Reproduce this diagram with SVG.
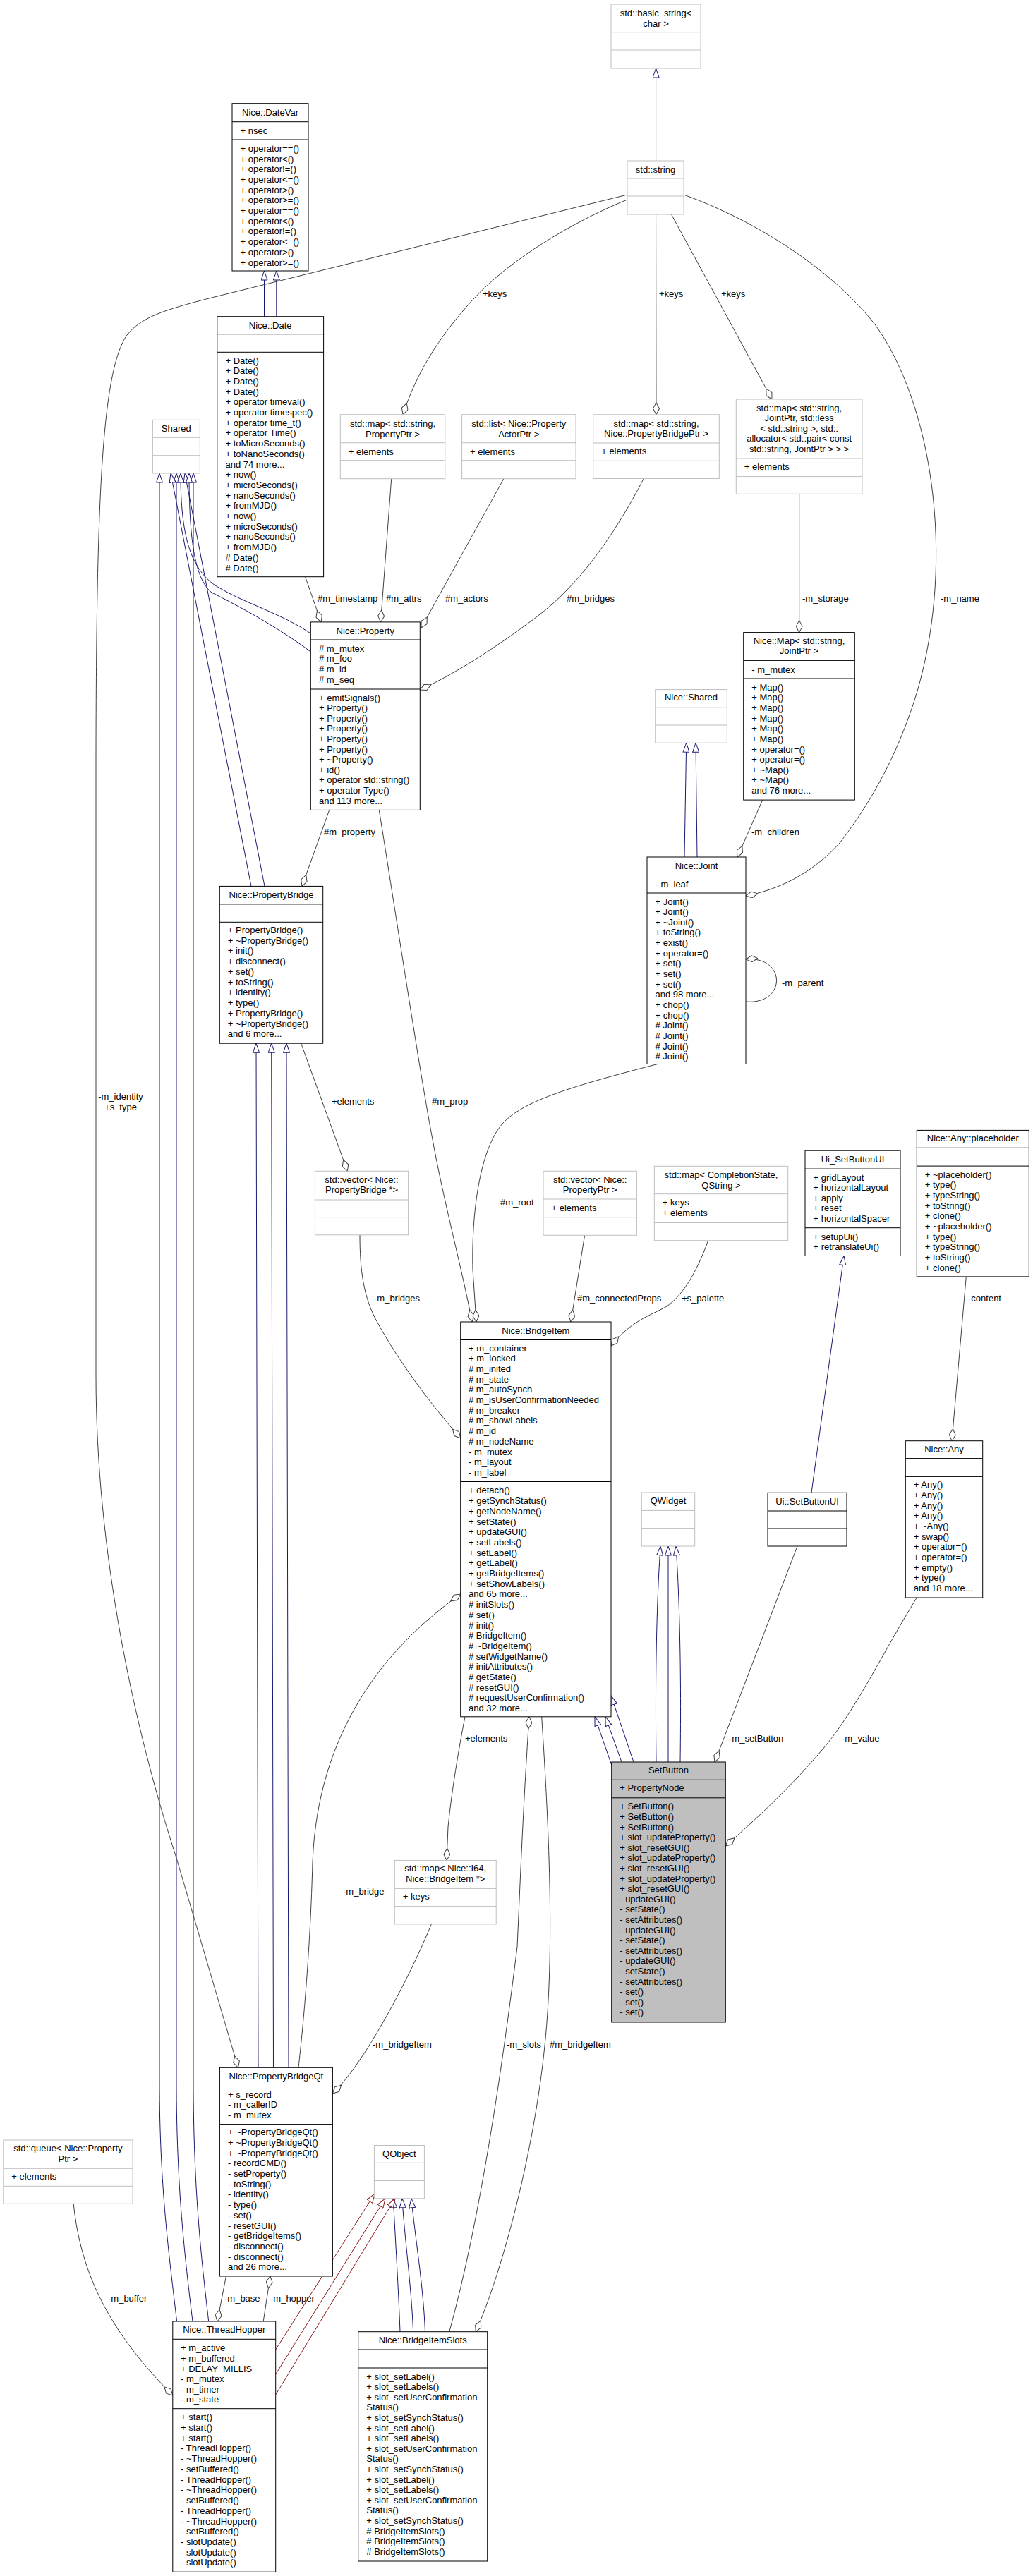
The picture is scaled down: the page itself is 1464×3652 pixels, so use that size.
<svg xmlns="http://www.w3.org/2000/svg" width="1464" height="3652" viewBox="0 0 1464 3652">
<style>
text{font-family:"Liberation Sans",Arial,sans-serif;font-size:13px;fill:#000}
.c{text-anchor:middle}
.nb rect{fill:#fff;stroke:#000;stroke-width:1}
.nb path{fill:none;stroke:#000;stroke-width:1}
.gb rect{fill:#fff;stroke:#bfbfbf;stroke-width:1}
.gb path{fill:none;stroke:#bfbfbf;stroke-width:1}
.nb.sel rect{fill:#bfbfbf}
.i{fill:none;stroke:#191970;stroke-width:1;marker-end:url(#tb)}
.r{fill:none;stroke:#8b1a1a;stroke-width:1;marker-end:url(#tr)}
.u{fill:none;stroke:#404040;stroke-width:1;marker-end:url(#dm)}
</style>
<defs>
<marker id="tb" viewBox="0 0 14 10" refX="13.5" refY="5" markerWidth="14" markerHeight="10" markerUnits="userSpaceOnUse" orient="auto"><path d="M0.5,0.5 L13.5,5 L0.5,9.5 Z" fill="#fff" stroke="#191970"/></marker>
<marker id="tr" viewBox="0 0 14 10" refX="13.5" refY="5" markerWidth="14" markerHeight="10" markerUnits="userSpaceOnUse" orient="auto"><path d="M0.5,0.5 L13.5,5 L0.5,9.5 Z" fill="#fff" stroke="#8b1a1a"/></marker>
<marker id="dm" viewBox="0 0 18 10" refX="17.5" refY="5" markerWidth="18" markerHeight="10" markerUnits="userSpaceOnUse" orient="auto"><path d="M0.5,5 L9,0.5 L17.5,5 L9,9.5 Z" fill="#fff" stroke="#404040"/></marker>
</defs>
<rect x="0" y="0" width="1464" height="3652" fill="#fff"/>

<g id="connectors">
<path class="i" d="M929.6,228 L929.6,97"/>
<path class="i" d="M374.5,448.7 L374.5,384"/>
<path class="i" d="M391.8,448.7 L391.8,384"/>
<path class="i" d="M250.6,3291 C240,3200 226,3100 226,2950 L226,671"/>
<path class="i" d="M273,3291 C262,3200 250,3100 250,2950 L250,671"/>
<path class="i" d="M295.7,3291 C285,3200 274,3100 274,2950 L274,671"/>
<path class="i" d="M356,1256.4 L242,671"/>
<path class="i" d="M375,1256.4 L262,671"/>
<path class="i" d="M440.3,898 C400,870 345,855 305,830 C270,805 256,760 256,671"/>
<path class="i" d="M440.3,924 C395,890 340,860 300,840 C275,820 268,760 268,671"/>
<path class="i" d="M366,2931.3 L363,1479.2"/>
<path class="i" d="M387.5,2931.3 L384.7,1479.2"/>
<path class="i" d="M409,2931.3 L406,1479.2"/>
<path class="i" d="M970,1215 L972.7,1053.2"/>
<path class="i" d="M988,1215 L986,1053.2"/>
<path class="i" d="M1150,2116.3 L1196,1780.5"/>
<path class="i" d="M930,2498 C928,2350 932,2250 936,2192"/>
<path class="i" d="M947,2498 L947,2192"/>
<path class="i" d="M964,2498 C966,2350 962,2250 958,2192"/>
<path class="i" d="M866.7,2502 L843,2433.8"/>
<path class="i" d="M881,2498 L858,2433.8"/>
<path class="i" d="M898,2498 L866,2404"/>
<path class="i" d="M567,3305.7 C565,3250 560,3170 557.4,3116.8"/>
<path class="i" d="M585.6,3305.7 C583,3240 573,3170 570,3116.8"/>
<path class="i" d="M602.5,3305.7 C600,3240 588,3170 583,3116.8"/>
<path class="r" d="M390.7,3331 L531,3110"/>
<path class="r" d="M390.7,3366 L546,3116.8"/>
<path class="r" d="M390.7,3395 L560,3116.8"/>

<path class="u" d="M889,283 C810,315 720,370 670,425 C620,480 590,530 571,587.7"/>
<path class="u" d="M929.6,304 L930,587.8"/>
<path class="u" d="M951.5,304 L1094,566"/>
<path class="u" d="M969,276 C1090,320 1190,395 1240,460 C1320,570 1355,790 1300,980 C1270,1080 1225,1150 1190,1195 C1150,1240 1100,1262 1057,1270"/>
<path class="u" d="M432.6,817.7 L455,881.9"/>
<path class="u" d="M554.7,678.7 L539.5,881.9"/>
<path class="u" d="M713.9,678.7 L597,890"/>
<path class="u" d="M912.3,678.5 C870,760 820,830 760,875 C700,920 645,955 595.3,978"/>
<path class="u" d="M1132.7,700.3 L1132.7,896.6"/>
<path class="u" d="M1080.7,1134.1 L1045,1215"/>
<path class="u" d="M466.7,1148.4 L428,1256.4"/>
<path class="u" d="M426.7,1479.2 L492.4,1660.3"/>
<path class="u" d="M537.3,1148.4 C560,1290 595,1520 612,1610 C628,1700 655,1800 669,1874"/>
<path class="u" d="M932,1508.5 C810,1540 745,1560 715,1590 C680,1625 668,1720 670,1800 L675,1874"/>
<path class="u" d="M510,1750.8 C510,1800 515,1840 535,1875 C565,1930 610,1990 652.7,2039"/>
<path class="u" d="M828.6,1751.3 L809,1874"/>
<path class="u" d="M1003.7,1758.7 C985,1810 965,1838 945,1852 C920,1866 895,1872 866,1908"/>
<path class="u" d="M1369.3,1809.9 L1349,2042.7"/>
<path class="u" d="M1130,2192 L1013,2498"/>
<path class="u" d="M1299.3,2265 C1250,2345 1215,2420 1170,2475 C1120,2535 1070,2580 1028.3,2617"/>
<path class="u" d="M659,2433.8 C650,2480 640,2540 635,2590 L633,2637.4"/>
<path class="u" d="M423,2931.3 C430,2870 440,2760 443,2640 C450,2460 540,2340 652.7,2260"/>
<path class="u" d="M611.4,2727.9 C590,2780 555,2850 520,2905 C505,2928 490,2950 471.4,2968"/>
<path class="u" d="M636.8,3305.7 C680,3150 712,2930 733,2760 C738,2650 742,2550 750,2433.8"/>
<path class="u" d="M767.7,2433.8 C775,2550 788,2750 772,2900 C757,3050 712,3220 674.3,3305.7"/>
<path class="u" d="M320.4,3227 L308,3291"/>
<path class="u" d="M373.2,3291 L383,3227"/>
<path class="u" d="M104.2,3124.3 C115,3230 160,3310 244.8,3396"/>
<path class="u" d="M889,276 L300,422 C230,440 200,450 180,475 C145,525 136,700 136,1100 L136,1950 C136,2200 190,2450 250,2634 L337.5,2931.3"/>
<path class="u" d="M1057,1420 C1115,1425 1115,1355 1057,1360"/>

<g id="edge-labels">
<text x="684" y="420.5">+keys</text>
<text x="934" y="420.5">+keys</text>
<text x="1022" y="420.5">+keys</text>
<text x="450" y="853">#m_timestamp</text>
<text x="547" y="853">#m_attrs</text>
<text x="631" y="853">#m_actors</text>
<text x="803" y="853">#m_bridges</text>
<text x="1137" y="853">-m_storage</text>
<text x="1333" y="853">-m_name</text>
<text x="459" y="1184">#m_property</text>
<text x="1065" y="1184">-m_children</text>
<text x="1108" y="1398">-m_parent</text>
<text class="c" x="171" y="1559">-m_identity</text>
<text class="c" x="171" y="1573.5">+s_type</text>
<text x="470" y="1566">+elements</text>
<text x="612" y="1566">#m_prop</text>
<text x="709" y="1708.5">#m_root</text>
<text x="530" y="1845">-m_bridges</text>
<text x="818" y="1845">#m_connectedProps</text>
<text x="966" y="1845">+s_palette</text>
<text x="1372" y="1845">-content</text>
<text x="659" y="2468.5">+elements</text>
<text x="1033" y="2469">-m_setButton</text>
<text x="1193" y="2469">-m_value</text>
<text x="486" y="2685.5">-m_bridge</text>
<text x="528" y="2903">-m_bridgeItem</text>
<text x="718" y="2903">-m_slots</text>
<text x="779" y="2903">#m_bridgeItem</text>
<text x="318" y="3263">-m_base</text>
<text x="383" y="3263">-m_hopper</text>
<text x="153" y="3263">-m_buffer</text>
</g>
</g>

<g id="node-basic-string" class="gb">
<rect x="866" y="6" width="127" height="91"/>
<path d="M866,45.7H993M866,71H993"/>
<text class="c" x="929.5" y="22.5">std::basic_string&lt;</text>
<text class="c" x="929.5" y="37.5">char &gt;</text>
</g>

<g id="node-std-string" class="gb">
<rect x="889" y="228" width="80" height="76"/>
<path d="M889,253H969M889,278H969"/>
<text class="c" x="929" y="245">std::string</text>
</g>

<g id="node-datevar" class="nb">
<rect x="329" y="146.7" width="108" height="237.3"/>
<path d="M329,172.7H437M329,198H437"/>
<text class="c" x="383" y="163.5">Nice::DateVar</text>
<text x="340.5" y="189.5">+ nsec</text>
<text x="340.5" y="214.8"><tspan x="340.5" dy="0">+ operator==()</tspan><tspan x="340.5" dy="14.7">+ operator&lt;()</tspan><tspan x="340.5" dy="14.7">+ operator!=()</tspan><tspan x="340.5" dy="14.7">+ operator&lt;=()</tspan><tspan x="340.5" dy="14.7">+ operator&gt;()</tspan><tspan x="340.5" dy="14.7">+ operator&gt;=()</tspan><tspan x="340.5" dy="14.7">+ operator==()</tspan><tspan x="340.5" dy="14.7">+ operator&lt;()</tspan><tspan x="340.5" dy="14.7">+ operator!=()</tspan><tspan x="340.5" dy="14.7">+ operator&lt;=()</tspan><tspan x="340.5" dy="14.7">+ operator&gt;()</tspan><tspan x="340.5" dy="14.7">+ operator&gt;=()</tspan></text>
</g>

<g id="node-date" class="nb">
<rect x="307.8" y="448.7" width="150.8" height="369"/>
<path d="M307.8,473.7H458.6M307.8,499.3H458.6"/>
<text class="c" x="383.2" y="465.5">Nice::Date</text>
<text x="319.5" y="515.5"><tspan x="319.5" dy="0">+ Date()</tspan><tspan x="319.5" dy="14.7">+ Date()</tspan><tspan x="319.5" dy="14.7">+ Date()</tspan><tspan x="319.5" dy="14.7">+ Date()</tspan><tspan x="319.5" dy="14.7">+ operator timeval()</tspan><tspan x="319.5" dy="14.7">+ operator timespec()</tspan><tspan x="319.5" dy="14.7">+ operator time_t()</tspan><tspan x="319.5" dy="14.7">+ operator Time()</tspan><tspan x="319.5" dy="14.7">+ toMicroSeconds()</tspan><tspan x="319.5" dy="14.7">+ toNanoSeconds()</tspan><tspan x="319.5" dy="14.7">and 74 more...</tspan><tspan x="319.5" dy="14.7">+ now()</tspan><tspan x="319.5" dy="14.7">+ microSeconds()</tspan><tspan x="319.5" dy="14.7">+ nanoSeconds()</tspan><tspan x="319.5" dy="14.7">+ fromMJD()</tspan><tspan x="319.5" dy="14.7">+ now()</tspan><tspan x="319.5" dy="14.7">+ microSeconds()</tspan><tspan x="319.5" dy="14.7">+ nanoSeconds()</tspan><tspan x="319.5" dy="14.7">+ fromMJD()</tspan><tspan x="319.5" dy="14.7"># Date()</tspan><tspan x="319.5" dy="14.7"># Date()</tspan></text>
</g>

<g id="node-shared" class="gb">
<rect x="216.4" y="595.3" width="66.9" height="75.7"/>
<path d="M216.4,620.3H283.3M216.4,645.7H283.3"/>
<text class="c" x="249.8" y="611.5">Shared</text>
</g>

<g id="node-map-propertyptr" class="gb">
<rect x="482.3" y="587.7" width="148.5" height="91"/>
<path d="M482.3,627.7H630.8M482.3,652.7H630.8"/>
<text class="c" x="556.5" y="604.5">std::map&lt; std::string,</text>
<text class="c" x="556.5" y="619.5">PropertyPtr &gt;</text>
<text x="493.8" y="644.5">+ elements</text>
</g>

<g id="node-list-actor" class="gb">
<rect x="654.6" y="587.7" width="161.4" height="91"/>
<path d="M654.6,627.7H816M654.6,652.7H816"/>
<text class="c" x="735.3" y="604.5">std::list&lt; Nice::Property</text>
<text class="c" x="735.3" y="619.5">ActorPtr &gt;</text>
<text x="666" y="644.5">+ elements</text>
</g>

<g id="node-map-bridgeptr" class="gb">
<rect x="840.7" y="587.8" width="178.6" height="90.7"/>
<path d="M840.7,628H1019.3M840.7,653.3H1019.3"/>
<text class="c" x="930" y="604.5">std::map&lt; std::string,</text>
<text class="c" x="930" y="619">Nice::PropertyBridgePtr &gt;</text>
<text x="852.2" y="644.2">+ elements</text>
</g>

<g id="node-map-joint" class="gb">
<rect x="1043.3" y="566" width="178.7" height="134.3"/>
<path d="M1043.3,650H1222M1043.3,675.6H1222"/>
<text class="c" x="1132.6" y="582.7">std::map&lt; std::string,</text>
<text class="c" x="1132.6" y="597.2">JointPtr, std::less</text>
<text class="c" x="1132.6" y="611.7">&lt; std::string &gt;, std::</text>
<text class="c" x="1132.6" y="626.3">allocator&lt; std::pair&lt; const</text>
<text class="c" x="1132.6" y="640.8">std::string, JointPtr &gt; &gt; &gt;</text>
<text x="1054.8" y="666">+ elements</text>
</g>

<g id="node-property" class="nb">
<rect x="440.3" y="881.9" width="155" height="266.5"/>
<path d="M440.3,907H595.3M440.3,977H595.3"/>
<text class="c" x="517.8" y="898.5">Nice::Property</text>
<text x="452" y="923.5"><tspan x="452" dy="0"># m_mutex</tspan><tspan x="452" dy="14.7"># m_foo</tspan><tspan x="452" dy="14.7"># m_id</tspan><tspan x="452" dy="14.7"># m_seq</tspan></text>
<text x="452" y="993.5"><tspan x="452" dy="0">+ emitSignals()</tspan><tspan x="452" dy="14.6">+ Property()</tspan><tspan x="452" dy="14.6">+ Property()</tspan><tspan x="452" dy="14.6">+ Property()</tspan><tspan x="452" dy="14.6">+ Property()</tspan><tspan x="452" dy="14.6">+ Property()</tspan><tspan x="452" dy="14.6">+ ~Property()</tspan><tspan x="452" dy="14.6">+ id()</tspan><tspan x="452" dy="14.6">+ operator std::string()</tspan><tspan x="452" dy="14.6">+ operator Type()</tspan><tspan x="452" dy="14.6">and 113 more...</tspan></text>
</g>

<g id="node-map" class="nb">
<rect x="1053.7" y="896.6" width="157.6" height="237.5"/>
<path d="M1053.7,936.4H1211.3M1053.7,962H1211.3"/>
<text class="c" x="1132.5" y="913.2">Nice::Map&lt; std::string,</text>
<text class="c" x="1132.5" y="927.3">JointPtr &gt;</text>
<text x="1065.3" y="953.5">- m_mutex</text>
<text x="1065.3" y="978.7"><tspan x="1065.3" dy="0">+ Map()</tspan><tspan x="1065.3" dy="14.64">+ Map()</tspan><tspan x="1065.3" dy="14.64">+ Map()</tspan><tspan x="1065.3" dy="14.64">+ Map()</tspan><tspan x="1065.3" dy="14.64">+ Map()</tspan><tspan x="1065.3" dy="14.64">+ Map()</tspan><tspan x="1065.3" dy="14.64">+ operator=()</tspan><tspan x="1065.3" dy="14.64">+ operator=()</tspan><tspan x="1065.3" dy="14.64">+ ~Map()</tspan><tspan x="1065.3" dy="14.64">+ ~Map()</tspan><tspan x="1065.3" dy="14.64">and 76 more...</tspan></text>
</g>

<g id="node-nice-shared" class="gb">
<rect x="928.7" y="977.6" width="101.6" height="75.6"/>
<path d="M928.7,1002.8H1030.3M928.7,1028H1030.3"/>
<text class="c" x="979.5" y="993.2">Nice::Shared</text>
</g>

<g id="node-joint" class="nb">
<rect x="917" y="1215" width="140" height="293.5"/>
<path d="M917,1240.5H1057M917,1266H1057"/>
<text class="c" x="987" y="1232">Nice::Joint</text>
<text x="928.5" y="1257.5">- m_leaf</text>
<text x="928.5" y="1282.5"><tspan x="928.5" dy="0">+ Joint()</tspan><tspan x="928.5" dy="14.65">+ Joint()</tspan><tspan x="928.5" dy="14.65">+ ~Joint()</tspan><tspan x="928.5" dy="14.65">+ toString()</tspan><tspan x="928.5" dy="14.65">+ exist()</tspan><tspan x="928.5" dy="14.65">+ operator=()</tspan><tspan x="928.5" dy="14.65">+ set()</tspan><tspan x="928.5" dy="14.65">+ set()</tspan><tspan x="928.5" dy="14.65">+ set()</tspan><tspan x="928.5" dy="14.65">and 98 more...</tspan><tspan x="928.5" dy="14.65">+ chop()</tspan><tspan x="928.5" dy="14.65">+ chop()</tspan><tspan x="928.5" dy="14.65"># Joint()</tspan><tspan x="928.5" dy="14.65"># Joint()</tspan><tspan x="928.5" dy="14.65"># Joint()</tspan><tspan x="928.5" dy="14.65"># Joint()</tspan></text>
</g>

<g id="node-propertybridge" class="nb">
<rect x="311.3" y="1256.4" width="146.4" height="222.8"/>
<path d="M311.3,1281.9H457.7M311.3,1307.3H457.7"/>
<text class="c" x="384.5" y="1273">Nice::PropertyBridge</text>
<text x="322.8" y="1323"><tspan x="322.8" dy="0">+ PropertyBridge()</tspan><tspan x="322.8" dy="14.73">+ ~PropertyBridge()</tspan><tspan x="322.8" dy="14.73">+ init()</tspan><tspan x="322.8" dy="14.73">+ disconnect()</tspan><tspan x="322.8" dy="14.73">+ set()</tspan><tspan x="322.8" dy="14.73">+ toString()</tspan><tspan x="322.8" dy="14.73">+ identity()</tspan><tspan x="322.8" dy="14.73">+ type()</tspan><tspan x="322.8" dy="14.73">+ PropertyBridge()</tspan><tspan x="322.8" dy="14.73">+ ~PropertyBridge()</tspan><tspan x="322.8" dy="14.73">and 6 more...</tspan></text>
</g>

<g id="node-vector-bridge" class="gb">
<rect x="446.4" y="1660.3" width="132.2" height="90.5"/>
<path d="M446.4,1701H578.6M446.4,1725.6H578.6"/>
<text class="c" x="512.5" y="1676.5">std::vector&lt; Nice::</text>
<text class="c" x="512.5" y="1691">PropertyBridge *&gt;</text>
</g>

<g id="node-vector-propertyptr" class="gb">
<rect x="770" y="1660.3" width="132.4" height="91"/>
<path d="M770,1700H902.4M770,1725.7H902.4"/>
<text class="c" x="836.2" y="1677.2">std::vector&lt; Nice::</text>
<text class="c" x="836.2" y="1691.2">PropertyPtr &gt;</text>
<text x="781.5" y="1717.2">+ elements</text>
</g>

<g id="node-map-completion" class="gb">
<rect x="927.3" y="1653.3" width="189.4" height="105.4"/>
<path d="M927.3,1692.7H1116.7M927.3,1733.5H1116.7"/>
<text class="c" x="1022" y="1669.5">std::map&lt; CompletionState,</text>
<text class="c" x="1022" y="1684.5">QString &gt;</text>
<text x="938.8" y="1709.2">+ keys</text>
<text x="938.8" y="1724.2">+ elements</text>
</g>

<g id="node-ui-setbuttonui-base" class="nb">
<rect x="1141" y="1631.2" width="135" height="149.3"/>
<path d="M1141,1657.1H1276M1141,1740.7H1276"/>
<text class="c" x="1208.5" y="1647.5">Ui_SetButtonUI</text>
<text x="1152.5" y="1673.5"><tspan x="1152.5" dy="0">+ gridLayout</tspan><tspan x="1152.5" dy="14.5">+ horizontalLayout</tspan><tspan x="1152.5" dy="14.5">+ apply</tspan><tspan x="1152.5" dy="14.5">+ reset</tspan><tspan x="1152.5" dy="14.5">+ horizontalSpacer</tspan></text>
<text x="1152.5" y="1757.5"><tspan x="1152.5" dy="0">+ setupUi()</tspan><tspan x="1152.5" dy="14.5">+ retranslateUi()</tspan></text>
</g>

<g id="node-placeholder" class="nb">
<rect x="1299.3" y="1602.4" width="159" height="207.5"/>
<path d="M1299.3,1627.3H1458.3M1299.3,1653.1H1458.3"/>
<text class="c" x="1378.8" y="1617.8">Nice::Any::placeholder</text>
<text x="1310.8" y="1669.5"><tspan x="1310.8" dy="0">+ ~placeholder()</tspan><tspan x="1310.8" dy="14.7">+ type()</tspan><tspan x="1310.8" dy="14.7">+ typeString()</tspan><tspan x="1310.8" dy="14.7">+ toString()</tspan><tspan x="1310.8" dy="14.7">+ clone()</tspan><tspan x="1310.8" dy="14.7">+ ~placeholder()</tspan><tspan x="1310.8" dy="14.7">+ type()</tspan><tspan x="1310.8" dy="14.7">+ typeString()</tspan><tspan x="1310.8" dy="14.7">+ toString()</tspan><tspan x="1310.8" dy="14.7">+ clone()</tspan></text>
</g>

<g id="node-bridgeitem" class="nb">
<rect x="652.7" y="1874" width="213.3" height="559.8"/>
<path d="M652.7,1899.5H866M652.7,2100.5H866"/>
<text class="c" x="759.3" y="1890.5">Nice::BridgeItem</text>
<text x="664" y="1915.5"><tspan x="664" dy="0">+ m_container</tspan><tspan x="664" dy="14.7">+ m_locked</tspan><tspan x="664" dy="14.7"># m_inited</tspan><tspan x="664" dy="14.7"># m_state</tspan><tspan x="664" dy="14.7"># m_autoSynch</tspan><tspan x="664" dy="14.7"># m_isUserConfirmationNeeded</tspan><tspan x="664" dy="14.7"># m_breaker</tspan><tspan x="664" dy="14.7"># m_showLabels</tspan><tspan x="664" dy="14.7"># m_id</tspan><tspan x="664" dy="14.7"># m_nodeName</tspan><tspan x="664" dy="14.7">- m_mutex</tspan><tspan x="664" dy="14.7">- m_layout</tspan><tspan x="664" dy="14.7">- m_label</tspan></text>
<text x="664" y="2117.4"><tspan x="664" dy="0">+ detach()</tspan><tspan x="664" dy="14.7">+ getSynchStatus()</tspan><tspan x="664" dy="14.7">+ getNodeName()</tspan><tspan x="664" dy="14.7">+ setState()</tspan><tspan x="664" dy="14.7">+ updateGUI()</tspan><tspan x="664" dy="14.7">+ setLabels()</tspan><tspan x="664" dy="14.7">+ setLabel()</tspan><tspan x="664" dy="14.7">+ getLabel()</tspan><tspan x="664" dy="14.7">+ getBridgeItems()</tspan><tspan x="664" dy="14.7">+ setShowLabels()</tspan><tspan x="664" dy="14.7">and 65 more...</tspan><tspan x="664" dy="14.7"># initSlots()</tspan><tspan x="664" dy="14.7"># set()</tspan><tspan x="664" dy="14.7"># init()</tspan><tspan x="664" dy="14.7"># BridgeItem()</tspan><tspan x="664" dy="14.7"># ~BridgeItem()</tspan><tspan x="664" dy="14.7"># setWidgetName()</tspan><tspan x="664" dy="14.7"># initAttributes()</tspan><tspan x="664" dy="14.7"># getState()</tspan><tspan x="664" dy="14.7"># resetGUI()</tspan><tspan x="664" dy="14.7"># requestUserConfirmation()</tspan><tspan x="664" dy="14.7">and 32 more...</tspan></text>
</g>

<g id="node-qwidget" class="gb">
<rect x="909.3" y="2116" width="75.4" height="76"/>
<path d="M909.3,2141.4H984.7M909.3,2166.6H984.7"/>
<text class="c" x="947" y="2132">QWidget</text>
</g>

<g id="node-ui-setbuttonui" class="nb">
<rect x="1088" y="2116.3" width="112" height="75.7"/>
<path d="M1088,2142H1200M1088,2167H1200"/>
<text class="c" x="1144" y="2132.5">Ui::SetButtonUI</text>
</g>

<g id="node-any" class="nb">
<rect x="1283.3" y="2042.7" width="109.4" height="222.3"/>
<path d="M1283.3,2067.6H1392.7M1283.3,2093.4H1392.7"/>
<text class="c" x="1338" y="2059">Nice::Any</text>
<text x="1294.8" y="2109.4"><tspan x="1294.8" dy="0">+ Any()</tspan><tspan x="1294.8" dy="14.67">+ Any()</tspan><tspan x="1294.8" dy="14.67">+ Any()</tspan><tspan x="1294.8" dy="14.67">+ Any()</tspan><tspan x="1294.8" dy="14.67">+ ~Any()</tspan><tspan x="1294.8" dy="14.67">+ swap()</tspan><tspan x="1294.8" dy="14.67">+ operator=()</tspan><tspan x="1294.8" dy="14.67">+ operator=()</tspan><tspan x="1294.8" dy="14.67">+ empty()</tspan><tspan x="1294.8" dy="14.67">+ type()</tspan><tspan x="1294.8" dy="14.67">and 18 more...</tspan></text>
</g>

<g id="node-setbutton" class="nb sel">
<rect x="866.7" y="2498" width="161.6" height="369"/>
<path d="M866.7,2523.3H1028.3M866.7,2548.8H1028.3"/>
<text class="c" x="947.5" y="2514.4">SetButton</text>
<text x="878.2" y="2539.2">+ PropertyNode</text>
<text x="878.2" y="2565.4"><tspan x="878.2" dy="0">+ SetButton()</tspan><tspan x="878.2" dy="14.6">+ SetButton()</tspan><tspan x="878.2" dy="14.6">+ SetButton()</tspan><tspan x="878.2" dy="14.6">+ slot_updateProperty()</tspan><tspan x="878.2" dy="14.6">+ slot_resetGUI()</tspan><tspan x="878.2" dy="14.6">+ slot_updateProperty()</tspan><tspan x="878.2" dy="14.6">+ slot_resetGUI()</tspan><tspan x="878.2" dy="14.6">+ slot_updateProperty()</tspan><tspan x="878.2" dy="14.6">+ slot_resetGUI()</tspan><tspan x="878.2" dy="14.6">- updateGUI()</tspan><tspan x="878.2" dy="14.6">- setState()</tspan><tspan x="878.2" dy="14.6">- setAttributes()</tspan><tspan x="878.2" dy="14.6">- updateGUI()</tspan><tspan x="878.2" dy="14.6">- setState()</tspan><tspan x="878.2" dy="14.6">- setAttributes()</tspan><tspan x="878.2" dy="14.6">- updateGUI()</tspan><tspan x="878.2" dy="14.6">- setState()</tspan><tspan x="878.2" dy="14.6">- setAttributes()</tspan><tspan x="878.2" dy="14.6">- set()</tspan><tspan x="878.2" dy="14.6">- set()</tspan><tspan x="878.2" dy="14.6">- set()</tspan></text>
</g>

<g id="node-map-i64" class="gb">
<rect x="559.3" y="2637.4" width="143.9" height="90.5"/>
<path d="M559.3,2677.4H703.2M559.3,2702.6H703.2"/>
<text class="c" x="631.2" y="2653">std::map&lt; Nice::I64,</text>
<text class="c" x="631.2" y="2668.1">Nice::BridgeItem *&gt;</text>
<text x="570.8" y="2693.4">+ keys</text>
</g>

<g id="node-propertybridgeqt" class="nb">
<rect x="311.4" y="2931.3" width="160" height="295.7"/>
<path d="M311.4,2957.5H471.4M311.4,3011.6H471.4"/>
<text class="c" x="391.4" y="2947.5">Nice::PropertyBridgeQt</text>
<text x="323" y="2973.5"><tspan x="323" dy="0">+ s_record</tspan><tspan x="323" dy="14.65">- m_callerID</tspan><tspan x="323" dy="14.65">- m_mutex</tspan></text>
<text x="323" y="3027.2"><tspan x="323" dy="0">+ ~PropertyBridgeQt()</tspan><tspan x="323" dy="14.7">+ ~PropertyBridgeQt()</tspan><tspan x="323" dy="14.7">+ ~PropertyBridgeQt()</tspan><tspan x="323" dy="14.7">- recordCMD()</tspan><tspan x="323" dy="14.7">- setProperty()</tspan><tspan x="323" dy="14.7">- toString()</tspan><tspan x="323" dy="14.7">- identity()</tspan><tspan x="323" dy="14.7">- type()</tspan><tspan x="323" dy="14.7">- set()</tspan><tspan x="323" dy="14.7">- resetGUI()</tspan><tspan x="323" dy="14.7">- getBridgeItems()</tspan><tspan x="323" dy="14.7">- disconnect()</tspan><tspan x="323" dy="14.7">- disconnect()</tspan><tspan x="323" dy="14.7">and 26 more...</tspan></text>
</g>

<g id="node-queue" class="gb">
<rect x="4.8" y="3034" width="183.2" height="90.3"/>
<path d="M4.8,3074.3H188M4.8,3099.3H188"/>
<text class="c" x="96.4" y="3050.4">std::queue&lt; Nice::Property</text>
<text class="c" x="96.4" y="3064.8">Ptr &gt;</text>
<text x="16.3" y="3090.2">+ elements</text>
</g>

<g id="node-qobject" class="gb">
<rect x="530.4" y="3041.5" width="71" height="75.3"/>
<path d="M530.4,3066.3H601.4M530.4,3091.5H601.4"/>
<text class="c" x="565.9" y="3057.5">QObject</text>
</g>

<g id="node-threadhopper" class="nb">
<rect x="244.8" y="3291" width="145.9" height="355.2"/>
<path d="M244.8,3316.3H390.7M244.8,3414.7H390.7"/>
<text class="c" x="317.7" y="3307.2">Nice::ThreadHopper</text>
<text x="256" y="3333.3"><tspan x="256" dy="0">+ m_active</tspan><tspan x="256" dy="14.6">+ m_buffered</tspan><tspan x="256" dy="14.6">+ DELAY_MILLIS</tspan><tspan x="256" dy="14.6">- m_mutex</tspan><tspan x="256" dy="14.6">- m_timer</tspan><tspan x="256" dy="14.6">- m_state</tspan></text>
<text x="256" y="3431.3"><tspan x="256" dy="0">+ start()</tspan><tspan x="256" dy="14.72">+ start()</tspan><tspan x="256" dy="14.72">+ start()</tspan><tspan x="256" dy="14.72">- ThreadHopper()</tspan><tspan x="256" dy="14.72">- ~ThreadHopper()</tspan><tspan x="256" dy="14.72">- setBuffered()</tspan><tspan x="256" dy="14.72">- ThreadHopper()</tspan><tspan x="256" dy="14.72">- ~ThreadHopper()</tspan><tspan x="256" dy="14.72">- setBuffered()</tspan><tspan x="256" dy="14.72">- ThreadHopper()</tspan><tspan x="256" dy="14.72">- ~ThreadHopper()</tspan><tspan x="256" dy="14.72">- setBuffered()</tspan><tspan x="256" dy="14.72">- slotUpdate()</tspan><tspan x="256" dy="14.72">- slotUpdate()</tspan><tspan x="256" dy="14.72">- slotUpdate()</tspan></text>
</g>

<g id="node-bridgeitemslots" class="nb">
<rect x="507.7" y="3305.7" width="183" height="325.3"/>
<path d="M507.7,3331H690.7M507.7,3357H690.7"/>
<text class="c" x="599.2" y="3321.8">Nice::BridgeItemSlots</text>
<text x="519.3" y="3373.5"><tspan x="519.3" dy="0">+ slot_setLabel()</tspan><tspan x="519.3" dy="14.6">+ slot_setLabels()</tspan><tspan x="519.3" dy="14.6">+ slot_setUserConfirmation</tspan><tspan x="519.3" dy="14.6">Status()</tspan><tspan x="519.3" dy="14.6">+ slot_setSynchStatus()</tspan><tspan x="519.3" dy="14.6">+ slot_setLabel()</tspan><tspan x="519.3" dy="14.6">+ slot_setLabels()</tspan><tspan x="519.3" dy="14.6">+ slot_setUserConfirmation</tspan><tspan x="519.3" dy="14.6">Status()</tspan><tspan x="519.3" dy="14.6">+ slot_setSynchStatus()</tspan><tspan x="519.3" dy="14.6">+ slot_setLabel()</tspan><tspan x="519.3" dy="14.6">+ slot_setLabels()</tspan><tspan x="519.3" dy="14.6">+ slot_setUserConfirmation</tspan><tspan x="519.3" dy="14.6">Status()</tspan><tspan x="519.3" dy="14.6">+ slot_setSynchStatus()</tspan><tspan x="519.3" dy="14.6"># BridgeItemSlots()</tspan><tspan x="519.3" dy="14.6"># BridgeItemSlots()</tspan><tspan x="519.3" dy="14.6"># BridgeItemSlots()</tspan></text>
</g>
</svg>
